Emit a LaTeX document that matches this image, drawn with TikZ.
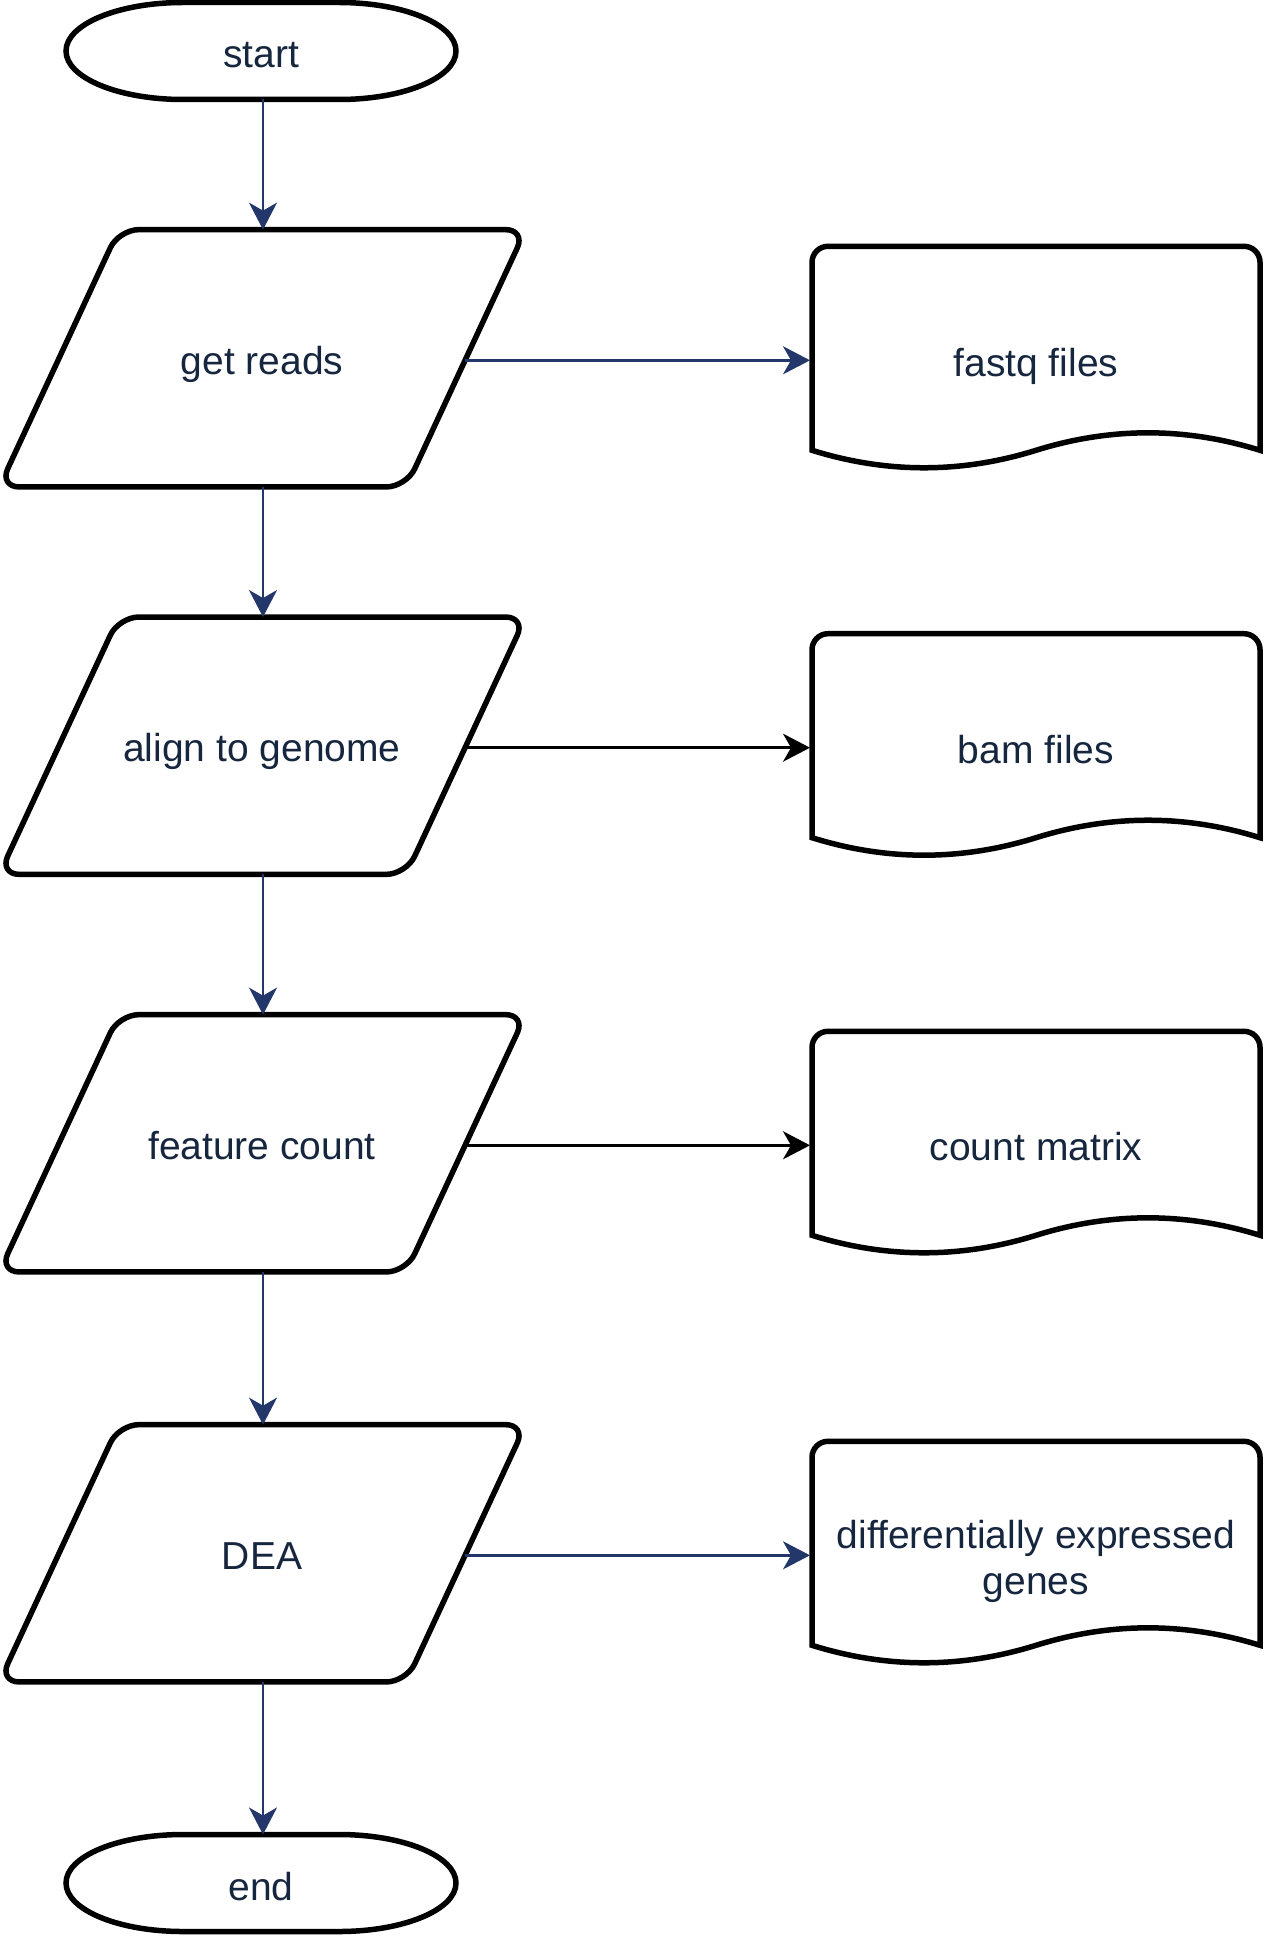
\documentclass[tikz,border=0pt]{standalone}
\usepackage{fontspec}
\setmainfont{Liberation Sans}
\usetikzlibrary{arrows.meta}
\definecolor{navy}{HTML}{23376A}
\definecolor{txt}{HTML}{17263F}

\newcommand\termshape[2]{%
  \draw[shapeline] (#1-78,#2-48.5) -- (#1+78,#2-48.5)
    arc[start angle=-90,end angle=90,x radius=117,y radius=48.5]
    -- (#1-78,#2+48.5)
    arc[start angle=90,end angle=270,x radius=117,y radius=48.5] -- cycle;}
\newcommand\parashape[2]{%
  \draw[shapeline, rounded corners=20pt] (#1-263.25,#2+128.65) -- (#1-143.75,#2-128.65)
    -- (#1+263.25,#2-128.65) -- (#1+143.75,#2+128.65) -- cycle;}
\newcommand\docshape[1]{%
  \pgfmathsetmacro\dtop{#1-114}%
  \pgfmathsetmacro\dside{#1+90}%
  \draw[shapeline] (812,\dside) -- (812,\dtop+16)
    arc[start angle=180,end angle=270,radius=16] -- (1244,\dtop)
    arc[start angle=270,end angle=360,radius=16] -- (1260,\dside)
    .. controls (1185.3,\dside-23.3) and (1110.7,\dside-23.3) .. (1036,\dside)
    .. controls (961.3,\dside+23.3) and (886.7,\dside+23.3) .. (812,\dside) -- cycle;}

\begin{document}
\begin{tikzpicture}[x=1pt,y=-1pt,
  shapeline/.style={line width=5.5pt, black},
  lbl/.style={text=txt, font=\fontsize{39}{46}\selectfont, align=center, inner sep=0pt},
  flow/.style={line width=2.5pt, navy, -{Stealth[length=27pt,width=28pt,inset=8pt]}},
  flowk/.style={flow, black},
]
\useasboundingbox (0,0) rectangle (1272,1950);

% shapes
\termshape{261}{51}
\parashape{262.5}{358.3}
\parashape{262.5}{745.7}
\parashape{262.5}{1143.3}
\parashape{262.5}{1553.3}
\termshape{261}{1883}
\docshape{360.3}
\docshape{747.7}
\docshape{1145.3}
\docshape{1555.3}

% labels
\node[lbl, anchor=base] (start) at (261,68) {start};
\node[lbl, anchor=base] (get) at (262,374.8) {get reads};
\node[lbl, anchor=base] (align) at (262,761.7) {align to genome};
\node[lbl, anchor=base] (feat) at (262,1159.3) {feature count};
\node[lbl, anchor=base] (dea) at (262,1569.8) {DEA};
\node[lbl, anchor=base] (end) at (261,1900) {end};
\node[lbl, anchor=base] (fastq) at (1036,376) {fastq files};
\node[lbl, anchor=base] (bam) at (1036,763.5) {bam files};
\node[lbl, anchor=base] (count) at (1036,1160) {count matrix};
\node[lbl] (deg) at (1036,1561) {differentially expressed\\genes};

% connector end points
\coordinate (start-s) at (263,99);
\coordinate (get-n) at (263,229.65);
\coordinate (get-s) at (263,486.95);
\coordinate (get-e) at (465,360.3);
\coordinate (align-n) at (263,617.05);
\coordinate (align-s) at (263,874.35);
\coordinate (align-e) at (465,747.7);
\coordinate (feat-n) at (263,1014.65);
\coordinate (feat-s) at (263,1271.95);
\coordinate (feat-e) at (465,1145.3);
\coordinate (dea-n) at (263,1424.65);
\coordinate (dea-s) at (263,1681.95);
\coordinate (dea-e) at (465,1555.3);
\coordinate (end-n) at (263,1834.5);
\coordinate (fastq-w) at (810,360.3);
\coordinate (bam-w) at (810,747.7);
\coordinate (count-w) at (810,1145.3);
\coordinate (deg-w) at (810,1555.3);

% connectors
\draw[flow] (start-s) -- (get-n);
\draw[flow] (get-s) -- (align-n);
\draw[flow] (align-s) -- (feat-n);
\draw[flow] (feat-s) -- (dea-n);
\draw[flow] (dea-s) -- (end-n);
\draw[flow] (get-e) -- (fastq-w);
\draw[flowk] (align-e) -- (bam-w);
\draw[flowk] (feat-e) -- (count-w);
\draw[flow] (dea-e) -- (deg-w);
\end{tikzpicture}
\end{document}
